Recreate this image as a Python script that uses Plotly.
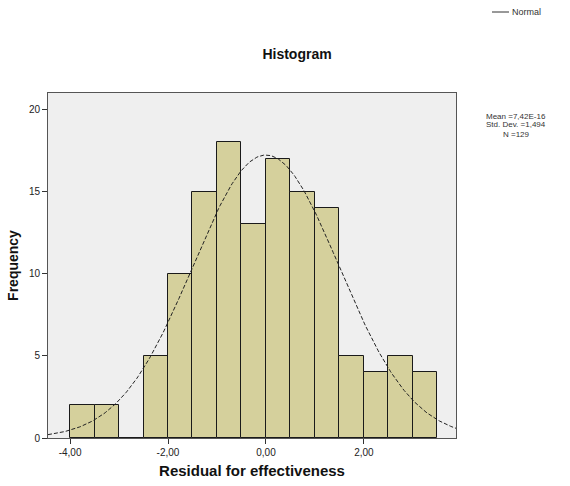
import numpy as np
import plotly.graph_objects as go

bin_left = [-4.0, -3.5, -3.0, -2.5, -2.0, -1.5, -1.0, -0.5, 0.0, 0.5, 1.0, 1.5, 2.0, 2.5, 3.0]
counts = [2, 2, 0, 5, 10, 15, 18, 13, 17, 15, 14, 5, 4, 5, 4]
bin_width = 0.5
mean = 7.42e-16
std = 1.494
n_obs = 129
tick_vals = [-4, -2, 0, 2]
tick_text = ["-4,00", "-2,00", "0,00", "2,00"]
stats_lines = ["Mean =7,42E-16", "Std. Dev. =1,494", "N =129"]

centers = [b + bin_width / 2 for b in bin_left]

xs = np.linspace(-4.45, 3.88, 300)
ys = n_obs * bin_width / (std * np.sqrt(2 * np.pi)) * np.exp(-0.5 * ((xs - mean) / std) ** 2)

font = "Liberation Sans, Arial, sans-serif"
PL, PR, PT, PB = 48, 456, 93, 438
def px(x):
    return (x - PL) / (PR - PL)
def py(y):
    return (PB - y) / (PB - PT)

fig = go.Figure()
fig.add_trace(go.Bar(
    x=centers, y=counts, width=bin_width,
    marker=dict(color="#d5d09c", line=dict(color="#1a1a1a", width=1)),
    showlegend=False, hoverinfo="x+y",
))
fig.add_trace(go.Scatter(
    x=xs, y=ys, mode="lines", name="Normal",
    line=dict(color="#222222", width=1, dash="4px,2px"),
    showlegend=False,
))

fig.update_layout(
    width=570, height=486,
    margin=dict(l=PL, r=570 - PR, t=PT, b=486 - PB),
    paper_bgcolor="white",
    plot_bgcolor="#efefef",
    bargap=0,
    font=dict(family=font, size=10, color="#222222"),
    title=dict(text="<b>Histogram</b>", x=297 / 570, xanchor="center", y=1 - 54 / 486,
               yanchor="middle", font=dict(size=14, family=font, color="#111111")),
    xaxis=dict(range=[-4.45, 3.88], tickvals=tick_vals, ticktext=tick_text,
               showgrid=False, zeroline=False, ticks="outside", ticklen=5,
               tickcolor="#333333", showline=True, linecolor="#555555", mirror=True,
               tickfont=dict(size=10), automargin=False,
               title=dict(text="<b>Residual for effectiveness</b>", standoff=8,
                          font=dict(size=15, family=font, color="#111111"))),
    yaxis=dict(range=[0, 21], tickvals=[0, 5, 10, 15, 20],
               showgrid=False, zeroline=False, ticks="outside", ticklen=5,
               tickcolor="#333333", showline=True, linecolor="#555555", mirror=True,
               tickfont=dict(size=10), automargin=False,
               title=dict(text="<b>Frequency</b>", standoff=6,
                          font=dict(size=14, family=font, color="#111111"))),
)

# legend entry (manual, top right)
fig.add_shape(type="line", xref="paper", yref="paper",
              x0=px(492), x1=px(509), y0=py(12), y1=py(12),
              line=dict(color="#333333", width=1))
fig.add_annotation(xref="paper", yref="paper", x=px(510), y=py(12),
                   text="Normal", showarrow=False, xanchor="left", yanchor="middle",
                   font=dict(size=9, family=font, color="#333333"))

for i, line in enumerate(stats_lines):
    fig.add_annotation(xref="paper", yref="paper", x=px(516), y=py(116 + 9 * i),
                       text=line, showarrow=False, xanchor="center", yanchor="middle",
                       font=dict(size=8, family=font, color="#333333"))

fig.write_html("out.html")
